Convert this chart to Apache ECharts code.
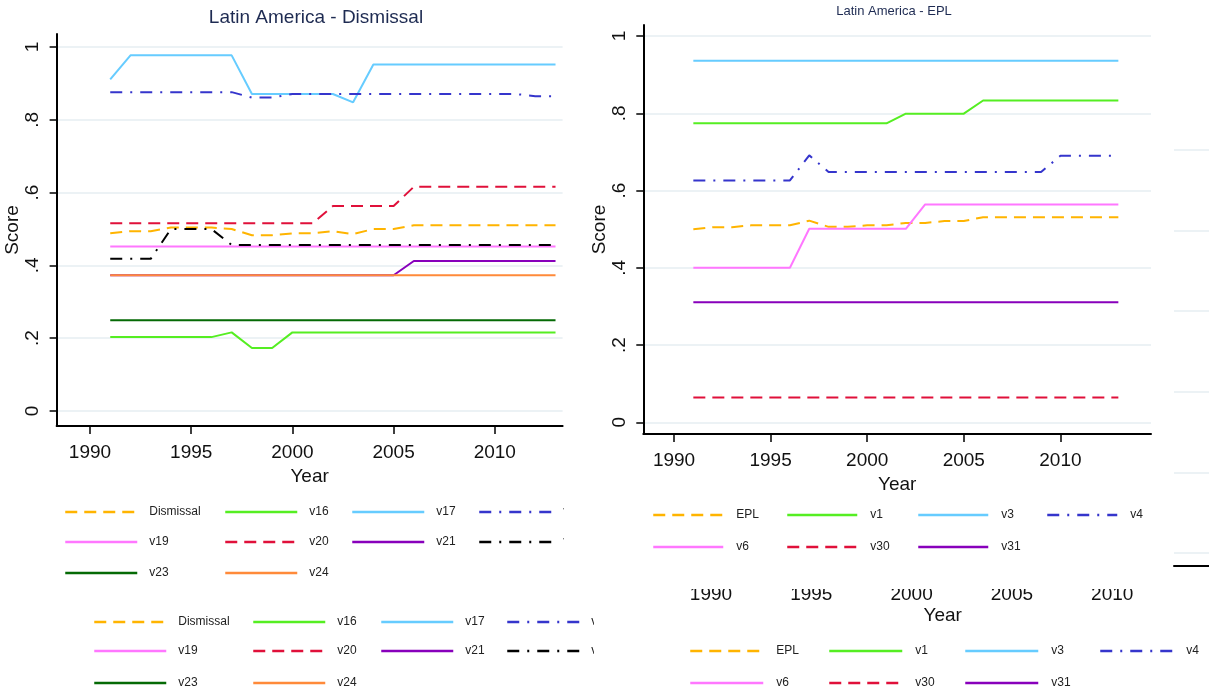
<!DOCTYPE html>
<html><head><meta charset="utf-8">
<script src="https://cdn.jsdelivr.net/npm/echarts@6/dist/echarts.min.js"></script>
<style>html,body{margin:0;padding:0;background:#fff}#c{width:1209px;height:696px}</style>
</head><body><div id="c"></div>
<script>
// ---------------- DATA ----------------
const years = [1991,1992,1993,1994,1995,1996,1997,1998,1999,2000,2001,2002,2003,2004,2005,2006,2007,2008,2009,2010,2011,2012,2013];
const xTicks = [1990,1995,2000,2005,2010];
const yTicks = [0,0.2,0.4,0.6,0.8,1];
const yTickLabels = ['0','.2','.4','.6','.8','1'];
const leftTitle = 'Latin America - Dismissal';
const rightTitle = 'Latin America - EPL';
const xName = 'Year';
const yName = 'Score';

// Left panel (Dismissal)
const leftNames = ['Dismissal','v16','v17','v18','v19','v20','v21','v22','v23','v24'];
const dismissal = [0.488,0.494,0.494,0.504,0.504,0.504,0.500,0.483,0.483,0.488,0.488,0.494,0.486,0.500,0.500,0.510,0.510,0.510,0.510,0.510,0.510,0.510,0.510];
const v16 = [0.203,0.203,0.203,0.203,0.203,0.203,0.216,0.173,0.173,0.216,0.216,0.216,0.216,0.216,0.216,0.216,0.216,0.216,0.216,0.216,0.216,0.216,0.216];
const v17 = [0.911,0.977,0.977,0.977,0.977,0.977,0.977,0.871,0.871,0.871,0.871,0.871,0.848,0.952,0.952,0.952,0.952,0.952,0.952,0.952,0.952,0.952,0.952];
const v18 = [0.876,0.876,0.876,0.876,0.876,0.876,0.876,0.861,0.861,0.871,0.871,0.871,0.871,0.871,0.871,0.871,0.871,0.871,0.871,0.871,0.871,0.865,0.865];
const v19 = [0.452,0.452,0.452,0.452,0.452,0.452,0.452,0.452,0.452,0.452,0.452,0.452,0.452,0.452,0.452,0.452,0.452,0.452,0.452,0.452,0.452,0.452,0.452];
const v20 = [0.516,0.516,0.516,0.516,0.516,0.516,0.516,0.516,0.516,0.516,0.516,0.563,0.563,0.563,0.563,0.616,0.616,0.616,0.616,0.616,0.616,0.616,0.616];
const v21 = [0.373,0.373,0.373,0.373,0.373,0.373,0.373,0.373,0.373,0.373,0.373,0.373,0.373,0.373,0.373,0.412,0.412,0.412,0.412,0.412,0.412,0.412,0.412];
const v22 = [0.418,0.418,0.418,0.500,0.500,0.500,0.456,0.456,0.456,0.456,0.456,0.456,0.456,0.456,0.456,0.456,0.456,0.456,0.456,0.456,0.456,0.456,0.456];
const v23 = [0.249,0.249,0.249,0.249,0.249,0.249,0.249,0.249,0.249,0.249,0.249,0.249,0.249,0.249,0.249,0.249,0.249,0.249,0.249,0.249,0.249,0.249,0.249];
const v24 = [0.373,0.373,0.373,0.373,0.373,0.373,0.373,0.373,0.373,0.373,0.373,0.373,0.373,0.373,0.373,0.373,0.373,0.373,0.373,0.373,0.373,0.373,0.373];
const leftValues = [dismissal,v16,v17,v18,v19,v20,v21,v22,v23,v24];

// Right panel (EPL)
const rightNames = ['EPL','v1','v3','v4','v6','v30','v31'];
const epl = [0.500,0.505,0.505,0.510,0.510,0.510,0.522,0.506,0.506,0.510,0.510,0.516,0.516,0.521,0.521,0.531,0.531,0.531,0.531,0.531,0.531,0.531,0.531];
const v1 = [0.774,0.774,0.774,0.774,0.774,0.774,0.774,0.774,0.774,0.774,0.774,0.799,0.799,0.799,0.799,0.833,0.833,0.833,0.833,0.833,0.833,0.833,0.833];
const v3 = [0.936,0.936,0.936,0.936,0.936,0.936,0.936,0.936,0.936,0.936,0.936,0.936,0.936,0.936,0.936,0.936,0.936,0.936,0.936,0.936,0.936,0.936,0.936];
const v4 = [0.626,0.626,0.626,0.626,0.626,0.626,0.691,0.648,0.648,0.648,0.648,0.648,0.648,0.648,0.648,0.648,0.648,0.648,0.648,0.690,0.690,0.690,0.690];
const v6 = [0.400,0.400,0.400,0.400,0.400,0.400,0.501,0.501,0.501,0.501,0.501,0.501,0.564,0.564,0.564,0.564,0.564,0.564,0.564,0.564,0.564,0.564,0.564];
const v30 = [0.064,0.064,0.064,0.064,0.064,0.064,0.064,0.064,0.064,0.064,0.064,0.064,0.064,0.064,0.064,0.064,0.064,0.064,0.064,0.064,0.064,0.064,0.064];
const v31 = [0.311,0.311,0.311,0.311,0.311,0.311,0.311,0.311,0.311,0.311,0.311,0.311,0.311,0.311,0.311,0.311,0.311,0.311,0.311,0.311,0.311,0.311,0.311];
const rightValues = [epl,v1,v3,v4,v6,v30,v31];

// ---------------- STYLES ----------------
const DASH = [12,7], DASHDOT = [12,8,2,8];
const styleOf = {
  'Dismissal':{c:'#FFB400',t:DASH}, 'EPL':{c:'#FFB400',t:DASH},
  'v16':{c:'#55EE22',t:'solid'}, 'v1':{c:'#55EE22',t:'solid'},
  'v17':{c:'#66CCFF',t:'solid'}, 'v3':{c:'#66CCFF',t:'solid'},
  'v18':{c:'#3535CC',t:DASHDOT}, 'v4':{c:'#3535CC',t:DASHDOT},
  'v19':{c:'#FF77FF',t:'solid'}, 'v6':{c:'#FF77FF',t:'solid'},
  'v20':{c:'#E0103A',t:DASH}, 'v30':{c:'#E0103A',t:DASH},
  'v21':{c:'#8800BB',t:'solid'}, 'v31':{c:'#8800BB',t:'solid'},
  'v22':{c:'#000000',t:DASHDOT},
  'v23':{c:'#056A05',t:'solid'},
  'v24':{c:'#FF8A3A',t:'solid'}
};
const FONT = "'Liberation Sans', Arial, sans-serif";
const GRID_C = '#e6eef2';

function mkSeries(name, vals, idx){
  const s = styleOf[name];
  return {type:'line', name, xAxisIndex:idx, yAxisIndex:idx,
    data: years.map((y,i)=>[y, vals[i]]),
    symbol:'none', showSymbol:false, silent:true, animation:false,
    lineStyle:{color:s.c, width:2, type:s.t}, itemStyle:{color:s.c},
    emphasis:{disabled:true}};
}
const series = [];
leftNames.forEach((n,i)=>series.push(mkSeries(n,leftValues[i],0)));
rightNames.forEach((n,i)=>series.push(mkSeries(n,rightValues[i],1)));

const yLab = v => { const k = yTicks.findIndex(t=>Math.abs(t-v)<1e-9); return k<0?'':yTickLabels[k]; };

function xAx(grid,min,max,opt){
  return Object.assign({gridIndex:grid,type:'value',min,max,
    axisLine:{show:true,onZero:false,lineStyle:{color:'#000',width:2}},
    axisTick:{show:true,customValues:xTicks,length:8,lineStyle:{color:'#000',width:1.5}},
    axisLabel:{customValues:xTicks,formatter:v=>String(v),fontSize:19,color:'#111',margin:17,fontFamily:FONT},
    splitLine:{show:false},
    name:xName,nameLocation:'middle',nameGap:37,nameTextStyle:{fontSize:19,color:'#111',fontFamily:FONT}}, opt||{});
}
function yAx(grid,min,max,opt){
  return Object.assign({gridIndex:grid,type:'value',min,max,
    axisLine:{show:true,onZero:false,lineStyle:{color:'#000',width:2}},
    axisTick:{show:true,customValues:yTicks,length:7,lineStyle:{color:'#000',width:1.5}},
    axisLabel:{customValues:yTicks,formatter:yLab,rotate:90,fontSize:19,color:'#111',margin:14,fontFamily:FONT},
    splitLine:{show:true,lineStyle:{color:GRID_C,width:1.5}},
    name:yName,nameLocation:'middle',nameRotate:90,nameGap:33,nameTextStyle:{fontSize:19,color:'#111',fontFamily:FONT}}, opt||{});
}

// ---------------- LEGENDS (layout) ----------------
const legends = [];
function addLegendBlock(names, colX, rowY, itemW, textGap, textDy){
  names.forEach((n,i)=>{
    const col = i%4, row = Math.floor(i/4);
    legends.push({data:[n], left:colX[col], top:rowY[row]-5, padding:0, itemWidth:itemW, itemHeight:10,
      selectedMode:false, lineStyle:{width:2.5}, itemStyle:{opacity:0, borderWidth:0},
      textStyle:{fontSize:12, color:'#222', fontFamily:FONT, padding:[textDy,0,0,textGap-5]}});
  });
}
addLegendBlock(leftNames,[64,224,351,478],[511,541,572],72,12,4);
addLegendBlock(leftNames,[93,252,380,506],[621,650,682],72,12,4);
addLegendBlock(rightNames,[652,786,917,1046],[514,546],70,13,10);
addLegendBlock(rightNames,[689,828,964,1099],[650,682],73,13,8);

const option = {
  animation:false,
  backgroundColor:'#fff',
  title:[
    {text:leftTitle,left:316,top:8,textAlign:'center',padding:0,textStyle:{fontSize:19,fontWeight:'normal',color:'#1e2b52',fontFamily:FONT}},
    {text:rightTitle,left:894,top:5,textAlign:'center',padding:0,textStyle:{fontSize:13,fontWeight:'normal',color:'#1e2b52',fontFamily:FONT}}
  ],
  grid:[
    {left:56.6,top:34,width:506,height:392},
    {left:643.3,top:25,width:507.7,height:409},
    {left:678.9,top:540,width:527.6,height:30},
    {left:1174,top:150,width:200,height:416}
  ],
  xAxis:[
    xAx(0,1988.35,2013.35),
    xAx(1,1988.41,2014.69,{nameGap:38,axisLabel:{customValues:xTicks,formatter:v=>String(v),fontSize:19,color:'#111',margin:17,fontFamily:FONT}}),
    xAx(2,1988.4,2014.7,{axisLine:{show:false,onZero:false},axisTick:{show:false},nameGap:36,axisLabel:{customValues:xTicks,formatter:v=>String(v),fontSize:19,color:'#111',margin:15,fontFamily:FONT}}),
    {gridIndex:3,type:'value',min:1990,max:2000,axisLine:{show:true,onZero:false,lineStyle:{color:'#000',width:2}},axisTick:{show:false},axisLabel:{show:false},splitLine:{show:false}}
  ],
  yAxis:[
    yAx(0,-0.0412,1.0357),
    yAx(1,-0.0303,1.0285,{nameGap:34}),
    {gridIndex:2,type:'value',show:false,min:0,max:1},
    {gridIndex:3,type:'value',min:-0.0323,max:1,axisLine:{show:false},axisTick:{show:false,customValues:yTicks},axisLabel:{show:false,customValues:yTicks},splitLine:{show:true,lineStyle:{color:GRID_C,width:1.5}}}
  ],
  legend:legends,
  graphic:[
    {type:'rect',z:100,shape:{x:564,y:496,width:82,height:64},style:{fill:'#fff'}},
    {type:'rect',z:100,shape:{x:594,y:604,width:88,height:92},style:{fill:'#fff'}},
    {type:'rect',z:100,shape:{x:660,y:557,width:505,height:32},style:{fill:'#fff'}}
  ],
  series
};
const chart = echarts.init(document.getElementById('c'),null,{renderer:'canvas'});
chart.setOption(option);
</script></body></html>
